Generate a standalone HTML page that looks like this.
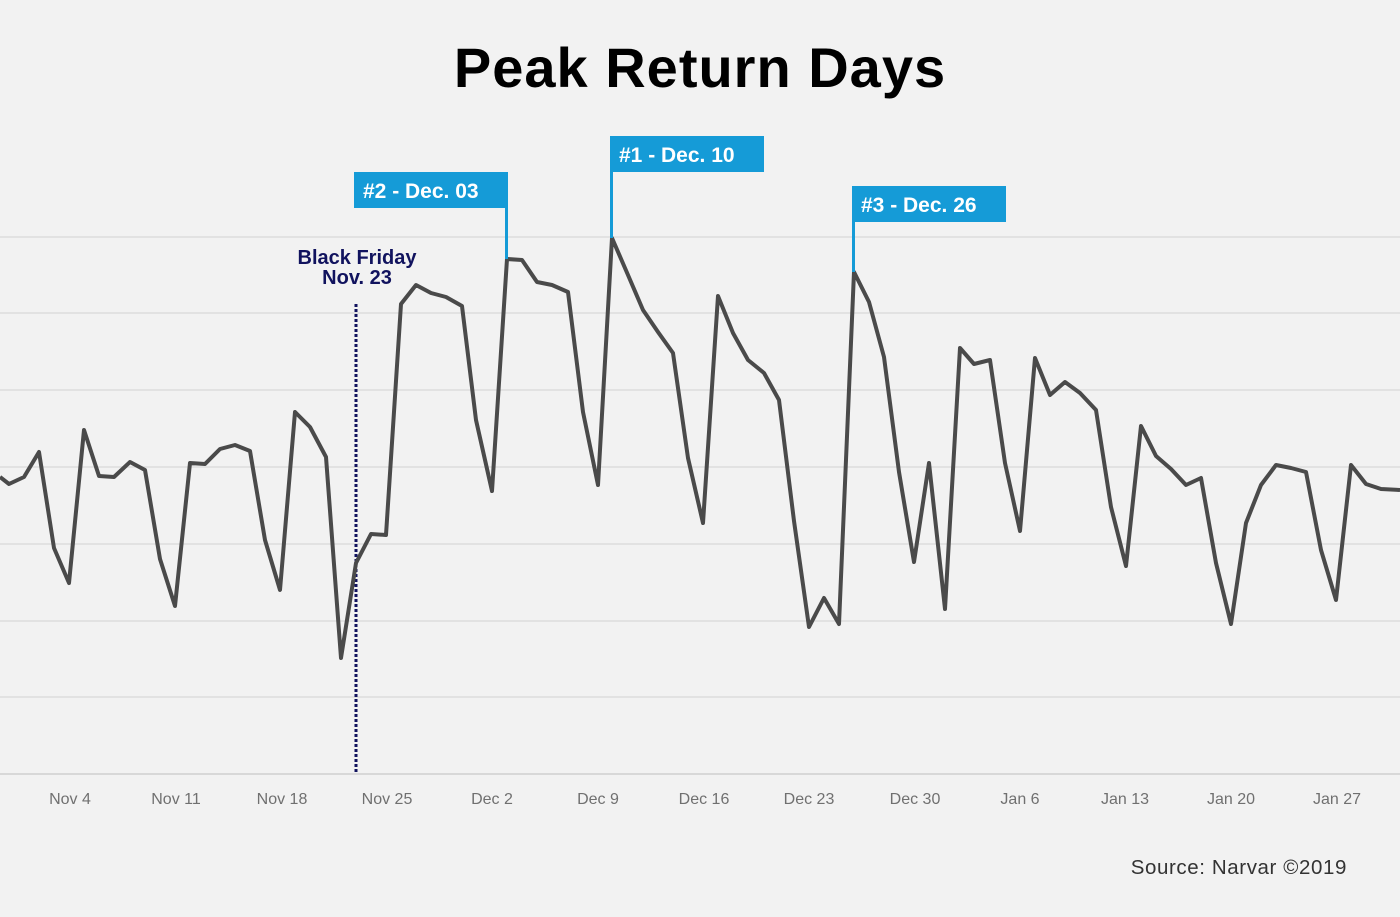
<!DOCTYPE html>
<html><head><meta charset="utf-8"><style>
body{margin:0;background:#f2f2f2;width:1400px;height:912px;overflow:hidden;font-family:"Liberation Sans",sans-serif;}
</style></head><body>
<svg width="1400" height="912" xmlns="http://www.w3.org/2000/svg">
<rect width="1400" height="912" fill="#f2f2f2"/>
<text x="700" y="87" text-anchor="middle" font-size="56" font-weight="bold" fill="#000" letter-spacing="1" font-family="Liberation Sans, sans-serif">Peak Return Days</text>
<g stroke="#dcdcdc" stroke-width="1.5">
<line x1="0" x2="1400" y1="237" y2="237"/><line x1="0" x2="1400" y1="313" y2="313"/>
<line x1="0" x2="1400" y1="390" y2="390"/><line x1="0" x2="1400" y1="467" y2="467"/>
<line x1="0" x2="1400" y1="544" y2="544"/><line x1="0" x2="1400" y1="621" y2="621"/>
<line x1="0" x2="1400" y1="697" y2="697"/><line x1="0" x2="1400" y1="774" y2="774" stroke="#cfcfcf"/>
</g>
<g font-size="16" fill="#707070" text-anchor="middle" font-family="Liberation Sans, sans-serif">
<text x="70" y="804">Nov 4</text><text x="176" y="804">Nov 11</text><text x="282" y="804">Nov 18</text>
<text x="387" y="804">Nov 25</text><text x="492" y="804">Dec 2</text><text x="598" y="804">Dec 9</text>
<text x="704" y="804">Dec 16</text><text x="809" y="804">Dec 23</text><text x="915" y="804">Dec 30</text>
<text x="1020" y="804">Jan 6</text><text x="1125" y="804">Jan 13</text><text x="1231" y="804">Jan 20</text>
<text x="1337" y="804">Jan 27</text>
</g>
<line x1="356" y1="304" x2="356" y2="774" stroke="#11135e" stroke-width="3" stroke-dasharray="3,2"/>
<text x="357" y="264" text-anchor="middle" font-size="20" font-weight="bold" fill="#11135e">Black Friday</text>
<text x="357" y="284" text-anchor="middle" font-size="20" font-weight="bold" fill="#11135e">Nov. 23</text>
<polyline fill="none" stroke="#4a4a4a" stroke-width="4" stroke-linejoin="round" points="0,477 9,484 24,477 39,452 54,548 69,583 84,430 99,476 114,477 130,462 145,470 160,559 175,606 190,463 205,464 220,449 235,445 250,451 265,540 280,590 295,412 310,427 326,457 341,658 356,563 371,534 386,535 401,304 416,285 431,293 446,297 462,306 476,420 492,491 507,259 522,260 537,282 552,285 568,292 583,412 598,485 612,238 628,275 643,310 658,332 673,353 688,458 703,523 718,296 733,333 748,360 764,373 779,400 794,521 809,627 824,598 839,624 854,272 869,302 884,357 899,472 914,562 929,463 945,609 960,348 974,364 990,360 1005,463 1020,531 1035,358 1050,395 1065,382 1080,393 1096,410 1111,507 1126,566 1141,426 1156,456 1171,469 1186,485 1201,478 1216,563 1231,624 1246,523 1261,485 1276,465 1291,468 1306,472 1321,550 1336,600 1351,465 1366,484 1381,489 1400,490"/>
<g fill="#159bd7">
<rect x="354" y="172" width="154" height="36"/><rect x="505" y="172" width="3" height="87"/>
<rect x="610" y="136" width="154" height="36"/><rect x="610" y="136" width="3" height="102"/>
<rect x="852" y="186" width="154" height="36"/><rect x="852" y="186" width="3" height="86"/>
</g>
<g fill="#fff" font-size="21" font-weight="bold">
<text x="363" y="198">#2 - Dec. 03</text>
<text x="619" y="162">#1 - Dec. 10</text>
<text x="861" y="212">#3 - Dec. 26</text>
</g>
<text x="1347" y="874" text-anchor="end" font-size="20.5" letter-spacing="0.6" fill="#333">Source: Narvar ©2019</text>
</svg>
</body></html>
